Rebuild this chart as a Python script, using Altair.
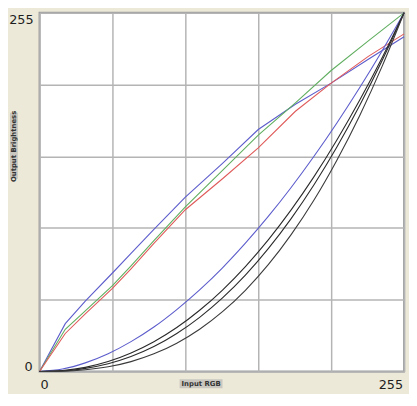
import altair as alt
import pandas as pd

# Upper (brightening) curves
upper_in = [0, 18, 32, 51, 64, 80, 102, 128, 153, 179, 204, 230, 255]
blue_hi = [0, 34, 50, 70, 84, 101, 124, 148, 172, 190, 205, 222, 238]
green = [0, 30, 43, 61, 75, 93, 117, 143, 168, 191, 214, 235, 255]
red = [0, 27, 41, 59, 73, 91, 115, 137, 159, 185, 205, 224, 240]

# Lower (darkening) curves
lower_in = [0, 16, 32, 48, 64, 80, 96, 112, 128, 144, 160, 176, 192, 208, 224, 240, 255]
blue_lo = [0, 1.7, 6.1, 12.6, 21.2, 31.6, 44.0, 58.0, 73.7, 91.2, 110.2, 130.8, 153.0, 176.7, 201.9, 228.6, 255]
black_a = [0, 0.7, 2.9, 7.0, 13.1, 21.1, 31.2, 43.5, 57.9, 74.6, 93.6, 114.9, 138.5, 164.6, 193.0, 223.8, 255]
black_b = [0, 0.4, 2.2, 5.5, 10.6, 17.7, 27.0, 38.5, 52.3, 68.5, 87.3, 108.7, 132.8, 159.6, 189.3, 221.8, 255]
black_c = [0, 0.2, 1.2, 3.3, 7.0, 12.5, 20.1, 30.0, 42.5, 57.7, 75.9, 97.3, 121.9, 150.2, 182.0, 217.8, 255]

grid_ticks = [0, 51, 102, 153, 204, 255]
x_title = "Input RGB"
y_title = "Output Brightness"

series = {
    "blue_hi": (upper_in, blue_hi),
    "green": (upper_in, green),
    "red": (upper_in, red),
    "blue_lo": (lower_in, blue_lo),
    "black_a": (lower_in, black_a),
    "black_b": (lower_in, black_b),
    "black_c": (lower_in, black_c),
}
colors = {
    "blue_hi": "#5C5CCC",
    "green": "#5FAE5F",
    "red": "#E05A5A",
    "blue_lo": "#5C5CCC",
    "black_a": "#2A2A2A",
    "black_b": "#2A2A2A",
    "black_c": "#3A3A3A",
}

rows = []
for name, (xs_, ys_) in series.items():
    for i, (a, b) in enumerate(zip(xs_, ys_)):
        rows.append({"s": name, "i": i, "inp": a, "out": b})
df = pd.DataFrame(rows)

xs = alt.Scale(domain=[0, 255], nice=False, zero=False)
ys = alt.Scale(domain=[0, 255], nice=False, zero=False)
axis = dict(values=grid_ticks, grid=True, gridColor="#B4B4B4", gridWidth=1.5,
            labels=False, ticks=False, domain=False, title=None)

upper_df = df[df.s.isin(["blue_hi", "green", "red"])]
lower_df = df[~df.s.isin(["blue_hi", "green", "red"])]

cscale = alt.Scale(domain=list(colors.keys()), range=list(colors.values()))

upper = alt.Chart(upper_df).mark_line(strokeWidth=1.1).encode(
    x=alt.X("inp:Q", scale=xs, axis=alt.Axis(**axis)),
    y=alt.Y("out:Q", scale=ys, axis=alt.Axis(**axis)),
    color=alt.Color("s:N", scale=cscale, legend=None),
    order="i:Q",
)
lower = alt.Chart(lower_df).mark_line(strokeWidth=1.1, interpolate="monotone").encode(
    x=alt.X("inp:Q", scale=xs),
    y=alt.Y("out:Q", scale=ys),
    color=alt.Color("s:N", scale=cscale, legend=None),
    order="i:Q",
)

num_font = dict(font="DejaVu Sans", fontSize=13, color="#1E1E1E")


def pos(x, y, t):
    return pd.DataFrame({"x": [x], "y": [y], "t": [t]})


enc = dict(x=alt.X("x:Q", scale=xs), y=alt.Y("y:Q", scale=ys), text="t:N")

lab_left_top = alt.Chart(pos(0, 255, "255")).mark_text(
    align="right", baseline="alphabetic", dx=-6, dy=11, **num_font).encode(**enc)
lab_left_0 = alt.Chart(pos(0, 0, "0")).mark_text(
    align="right", baseline="alphabetic", dx=-7, dy=0, **num_font).encode(**enc)
lab_bot_0 = alt.Chart(pos(0, 0, "0")).mark_text(
    align="left", baseline="alphabetic", dx=1, dy=18, **num_font).encode(**enc)
lab_bot_255 = alt.Chart(pos(255, 0, "255")).mark_text(
    align="right", baseline="alphabetic", dx=-1, dy=18, **num_font).encode(**enc)

# small grey label boxes behind the axis titles
box_x = alt.Chart(pd.DataFrame({"a": [98], "b": [128], "y": [0]})).mark_rect(
    color="#C9C7C0", yOffset=8, y2Offset=17
).encode(x=alt.X("a:Q", scale=xs), x2="b:Q", y=alt.Y("y:Q", scale=ys), y2="y:Q")
box_y = alt.Chart(pd.DataFrame({"x": [0], "a": [137], "b": [184]})).mark_rect(
    color="#C9C7C0", xOffset=-30, x2Offset=-22
).encode(x=alt.X("x:Q", scale=xs), x2="x:Q", y=alt.Y("a:Q", scale=ys), y2="b:Q")

title_x = alt.Chart(pos(113, 0, x_title)).mark_text(
    align="center", baseline="middle", dy=13, font="DejaVu Sans", fontSize=7,
    fontWeight="bold", color="#333333").encode(**enc)
title_y = alt.Chart(pos(0, 160, y_title)).mark_text(
    align="center", baseline="middle", angle=270, xOffset=-26, font="DejaVu Sans",
    fontSize=7, fontWeight="bold", color="#333333").encode(**enc)

chart = alt.layer(
    upper, lower, box_x, box_y, lab_left_top, lab_left_0, lab_bot_0, lab_bot_255,
    title_x, title_y
).properties(
    width=370, height=364,
    autosize=alt.AutoSizeParams(type="none"),
    padding={"left": 32, "top": 2, "right": 5, "bottom": 20},
    background="#ECE9D8",
).configure_view(
    stroke="#9C9C9C", strokeWidth=2, fill="white"
)

chart.save("out.html", embed_options={"renderer": "svg", "actions": False})
